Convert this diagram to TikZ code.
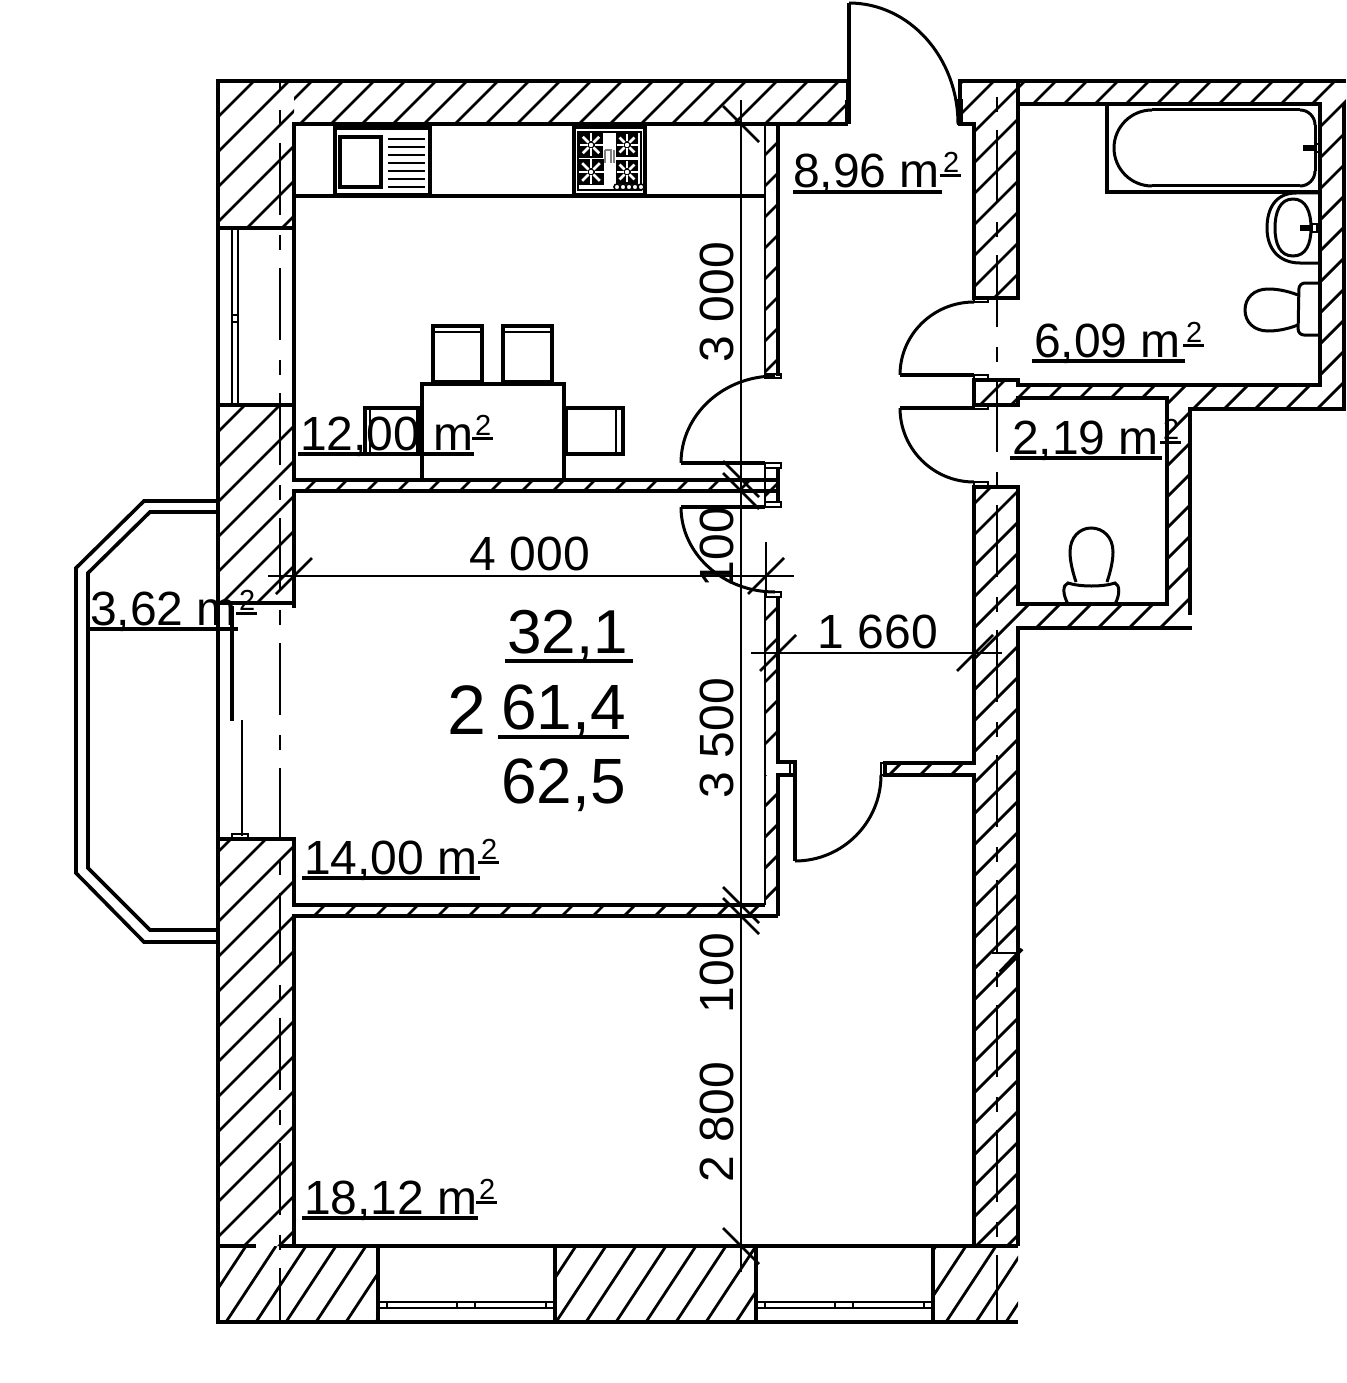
\documentclass[tikz,border=0pt]{standalone}
\usepackage{fontspec}
\setmainfont{Liberation Sans}
\newcommand{\qarcpath}[4]{%
  \pgfmathsetmacro{\qa}{#2+0.5523*(#4-#2)}%
  \pgfmathsetmacro{\qb}{#3-0.5523*(#3-#1)}%
  \draw (#1,#2) .. controls (#1,\qa) and (\qb,#4) .. (#3,#4);}
\newcommand{\arealabel}[7]{% name, x, baseline, ul start, ul end, ul y, text
  \node[txt,font=\fontsize{48}{48}\selectfont] (#1) at (#2,#3) {#7};
  \draw[ul] (#4,#6) -- (#5,#6);
  \node[txt,font=\fontsize{29}{29}\selectfont] (#1s) at (#5+1,#3-15) {2};
  \draw[line width=3pt] (#5-2,#3-12) -- (#5+19,#3-12);}
\newcommand{\burner}[4]{% cx, cy, half w, half h
  \fill (#1-#3,#2-#4) rectangle (#1+#3,#2+#4);
  \foreach \ang in {0,45,...,315}
    \draw[white,line width=2.6pt] (#1,#2) ++(\ang:3.5) -- ++(\ang:#3-4);
  \fill[white] (#1,#2) circle (2.2);}
\tikzset{
  wall/.style={line width=3.6pt,line join=miter},
  thin wall/.style={line width=2.8pt},
  hatch/.style={line width=2.8pt},
  centre/.style={line width=2.8pt,dash pattern=on 72pt off 20pt on 15pt off 18pt},
  dim/.style={line width=2.6pt},
  ul/.style={line width=3.2pt},
  txt/.style={inner sep=0pt,anchor=base west},
  dimtxt/.style={inner sep=0pt,anchor=base,font=\fontsize{48}{48}\selectfont},
}
\begin{document}
\begin{tikzpicture}[x=1pt,y=-1pt]
\useasboundingbox (0,0) rectangle (1346,1383);
\fill[white] (0,0) rectangle (1346,1383);

% ---------- hatching of the outer left wall, wider
\begin{scope}
\clip (218,81) rectangle (294,228)
      (218,405) rectangle (294,603)
      (218,839) rectangle (294,1246);
\foreach \c in {300,335,...,1600}
  \draw[hatch] (\c,0) -- (0,\c);
\end{scope}
% ---------- hatching, 45 degrees
\begin{scope}
\clip (294,81) rectangle (848,124)
      (294,480) rectangle (778,491)
      (294,905) rectangle (778,916)
      (765,124) rectangle (778,376)
      (765,468) rectangle (778,502)
      (765,595) rectangle (778,762)
      (765,775) rectangle (778,905)
      (885,763) rectangle (974,775)
      (960,81) rectangle (1018,124)
      (974,124) rectangle (1018,298)
      (1018,81) rectangle (1346,104)
      (1320,81) rectangle (1344,409)
      (1018,385) rectangle (1167,398)
      (1167,385) rectangle (1344,409)
      (1167,385) rectangle (1190,628)
      (1018,604) rectangle (1190,628)
      (974,380) rectangle (1018,405)
      (974,487) rectangle (1018,1246);
\foreach \c in {300,331,...,2720}
  \draw[hatch] (\c,0) -- (0,\c);
\end{scope}
% ---------- hatching of the bottom wall, steeper
\begin{scope}
\clip (218,1246) rectangle (378,1322)
      (555,1246) rectangle (756,1322)
      (933,1246) rectangle (1018,1322);
\foreach \c in {196,226,...,1020}
  \draw[hatch] (\c,1322) -- (\c+50,1246);
\end{scope}

% ---------- centre lines inside the thick walls
\draw[centre,dash phase=63pt] (280,81) -- (280,1322);
\draw[centre,dash phase=76pt] (997,81) -- (997,1322);

% ---------- walls, left block
\draw[wall] (848,124) -- (848,81) -- (218,81) -- (218,1322) -- (1018,1322);
\draw[wall] (848,124) -- (294,124) -- (294,480) -- (778,480);
\draw[wall] (218,228) -- (294,228);
\draw[wall] (218,405) -- (294,405);
\draw[wall] (778,491) -- (294,491) -- (294,608);
\draw[wall] (218,603) -- (294,603);
\draw[wall] (218,839) -- (294,839) -- (294,905) -- (765,905);
\draw[wall] (778,916) -- (294,916) -- (294,1246);
\draw[wall] (218,1246) -- (256,1246);
\draw[wall] (280,1246) -- (1018,1246);
% partitions
\draw[thin wall] (765,124) -- (765,376);
\draw[wall] (778,124) -- (778,376);
\draw[thin wall] (765,374) rectangle (781,378);
\draw[thin wall] (765,463) rectangle (781,468);
\draw[thin wall] (765,502) rectangle (781,507);
\draw[thin wall] (765,468) -- (765,502);
\draw[wall] (778,468) -- (778,502);
\draw[thin wall] (765,592) rectangle (781,597);
\draw[thin wall] (765,597) -- (765,905);
\draw[wall] (778,597) -- (778,762) -- (795,762) -- (795,775) -- (778,775) -- (778,916);
\draw[thin wall] (790,762) -- (790,775);
% walls, right block
\draw[wall] (1346,81) -- (960,81) -- (960,124) -- (974,124) -- (974,298) -- (1018,298) -- (1018,81);
\draw[thin wall] (958,124) rectangle (962,100);
\draw[thin wall] (846,100) -- (846,124);
\draw[wall] (1018,104) -- (1320,104) -- (1320,385) -- (1018,385) -- (1018,380) -- (974,380) -- (974,405) -- (1018,405) -- (1018,398) -- (1167,398) -- (1167,604) -- (1018,604) -- (1018,487) -- (974,487) -- (974,763) -- (885,763) -- (885,775) -- (974,775) -- (974,1246);
\draw[wall] (1344,103) -- (1344,409) -- (1190,409) -- (1190,615);
\draw[wall] (1192,628) -- (1018,628) -- (1018,1246);
\draw[thin wall] (881,763) rectangle (885,775);
\draw[thin wall] (974,298) rectangle (988,302);
\draw[thin wall] (974,375) rectangle (988,380);
\draw[thin wall] (974,405) rectangle (988,409);
\draw[thin wall] (974,482) rectangle (988,487);
% ---------- windows
\draw[thin wall] (232,228) -- (232,405);
\draw[thin wall] (238,228) -- (238,405);
\draw[thin wall] (232,315) -- (238,315);
\draw[thin wall] (232,322) -- (238,322);
\draw[wall] (232,606) -- (232,721);
\draw[thin wall] (242,720) -- (242,836);
\draw[thin wall] (232,834) rectangle (248,839);
\foreach \a/\b in {378/555,756/933}{
  \draw[wall] (\a,1246) -- (\a,1322);
  \draw[wall] (\b,1246) -- (\b,1322);
  \draw[thin wall] (\a,1302) -- (\b,1302);
  \draw[thin wall] (\a,1308) -- (\b,1308);
  \draw[line width=1.6pt] (\a+9,1302) -- (\a+9,1308);
  \draw[line width=1.6pt] (\a+79,1302) -- (\a+79,1308);
  \draw[line width=1.6pt] (\a+97,1302) -- (\a+97,1308);
  \draw[line width=1.6pt] (\a+168,1302) -- (\a+168,1308);
}
% ---------- balcony
\draw[wall] (218,501) -- (144,501) -- (76,568) -- (76,873) -- (144,942) -- (218,942);
\draw[wall] (218,512) -- (150,512) -- (88,573) -- (88,868) -- (150,930) -- (218,930);
% ---------- doors
\begin{scope}[line width=3pt]
\draw[wall] (849,124) -- (849,3);
\qarcpath{958}{124}{849}{3}
\draw[wall] (681,463) -- (765,463);
\qarcpath{681}{463}{775}{376}
\draw[wall] (681,507) -- (765,507);
\qarcpath{681}{507}{775}{592}
\draw[wall] (900,375) -- (974,375);
\qarcpath{900}{375}{974}{302}
\draw[wall] (900,408) -- (974,408);
\qarcpath{900}{408}{974}{482}
\draw[wall] (795,775) -- (795,861);
\qarcpath{881}{775}{795}{861}
\end{scope}

% ---------- kitchen units
\draw[wall] (294,196) -- (765,196);
\draw[wall] (335,128) rectangle (430,195);
\draw[wall] (340,137) rectangle (381,187);
\foreach \y in {139,147,...,187}
  \draw[thin wall] (388,\y) -- (425,\y);
\draw[wall] (574,127) rectangle (645,195);
\draw[thin wall] (578,132) rectangle (641,190);
\burner{591}{145}{12}{13}
\burner{627}{145}{11}{12}
\burner{591}{172}{13}{13}
\burner{627}{172}{11}{12}
\foreach \x in {618,624,630,636,642}
  \draw[line width=1.6pt,fill=white] (\x-1,187) circle (3);
\draw[line width=1.2pt,gray] (605,150) -- (605,163) (605,150) -- (611,150) -- (611,163) (614,150) -- (614,163);
% table and chairs
\draw[wall] (422,384) rectangle (564,480);
\draw[wall] (433,326) rectangle (482,382);
\draw[thin wall] (433,332) -- (482,332);
\draw[wall] (503,326) rectangle (552,382);
\draw[thin wall] (503,332) -- (552,332);
\draw[wall] (365,408) rectangle (418,454);
\draw[thin wall] (370,408) -- (370,454);
\draw[wall] (566,408) rectangle (623,454);
\draw[thin wall] (616,408) -- (616,454);

% ---------- bathroom
\draw[wall] (1107,104) -- (1107,192) -- (1320,192);
\begin{scope}[line width=3pt]
\qarcpath{1114}{148}{1152}{110}
\qarcpath{1114}{148}{1152}{186}
\qarcpath{1315}{125}{1300}{110}
\qarcpath{1315}{171}{1300}{186}
\draw (1152,110) -- (1300,110);
\draw (1152,186) -- (1300,186);
\draw (1315,125) -- (1315,171);
\draw (1320,193) -- (1296,193) .. controls (1276,193) and (1267,208) .. (1267,228) .. controls (1267,250) and (1280,263) .. (1300,263) -- (1320,263);
\draw (1293,199) .. controls (1280,199) and (1275,212) .. (1275,228) .. controls (1275,244) and (1280,256) .. (1293,256) .. controls (1306,256) and (1311,244) .. (1311,228) .. controls (1311,212) and (1306,199) .. (1293,199);
\draw[rounded corners=6pt] (1320,283) -- (1299,283) -- (1298,335) -- (1320,335);
\draw (1298,295) .. controls (1285,290) and (1275,289) .. (1268,289) .. controls (1254,289) and (1245,298) .. (1245,310) .. controls (1245,322) and (1254,331) .. (1268,331) .. controls (1275,331) and (1285,330) .. (1298,325);
\end{scope}
\draw[line width=1.8pt,fill=black] (1304,146) rectangle (1316,150);
\draw[line width=2pt] (1316,144) rectangle (1320,152);
\draw[line width=1.8pt,fill=black] (1301,226) rectangle (1312,230);
\draw[line width=2pt] (1312,224) rectangle (1317,232);
% ---------- WC
\begin{scope}[line width=3pt]
\draw (1076,582) .. controls (1072,570) and (1070,560) .. (1070,552) .. controls (1070,537) and (1080,528) .. (1091,528) .. controls (1103,528) and (1113,537) .. (1113,552) .. controls (1113,560) and (1111,570) .. (1107,582);
\draw (1068,604) .. controls (1063,595) and (1062,585) .. (1068,583) .. controls (1080,587) and (1103,587) .. (1115,583) .. controls (1120,585) and (1120,595) .. (1115,604);
\end{scope}

% ---------- dimension lines
\draw[dim] (741,100) -- (741,1272);
\draw[dim] (268,576) -- (794,576);
\draw[dim] (751,653) -- (1002,653);
\draw[dim] (766,542) -- (766,597);
\foreach \y in {124,479,491,905,916,1246}
  \draw[dim] (723,\y-18) -- (759,\y+18);
\foreach \x/\y in {294/576,766/576,778/653,975/653}
  \draw[dim] (\x-18,\y+18) -- (\x+18,\y-18);
% ---------- mark on the wall
\draw[dim] (992,953) -- (1020,953);
\draw[wall] (1000,972) -- (1022,949);

% ---------- dimension texts
\node[dimtxt] (d4000) at (530,570) {4 000};
\node[dimtxt] (d1660) at (878,648) {1 660};
\node[dimtxt,rotate=90] (d3000) at (733,302) {3 000};
\node[dimtxt,rotate=90] (d100a) at (733,547) {100};
\node[dimtxt,rotate=90] (d3500) at (733,738) {3 500};
\node[dimtxt,rotate=90] (d100b) at (733,973) {100};
\node[dimtxt,rotate=90] (d2800) at (733,1122) {2 800};

% ---------- area texts
\arealabel{a1}{793}{188}{793}{942}{192}{8,96 m}
\arealabel{a2}{1034}{357}{1032}{1185}{361}{6,09 m}
\arealabel{a3}{1012}{454}{1010}{1162}{458}{2,19 m}
\arealabel{a4}{300}{450}{298}{474}{454}{12,00 m}
\arealabel{a5}{304}{874}{302}{480}{878}{14,00 m}
\arealabel{a6}{304}{1214}{302}{478}{1218}{18,12 m}
\arealabel{a7}{90}{625}{87}{238}{629}{3,62 m}

% ---------- apartment figures
\node[txt,font=\fontsize{62}{62}\selectfont] (f1) at (507,653) {32,1};
\draw[line width=4pt] (505,661) -- (633,661);
\node[txt,font=\fontsize{64}{64}\selectfont] (f2) at (501,729) {61,4};
\draw[line width=4pt] (498,737) -- (629,737);
\node[txt,font=\fontsize{64}{64}\selectfont] (f3) at (501,803) {62,5};
\node[txt,font=\fontsize{70}{70}\selectfont] (f4) at (447,734) {2};
\end{tikzpicture}
\end{document}
